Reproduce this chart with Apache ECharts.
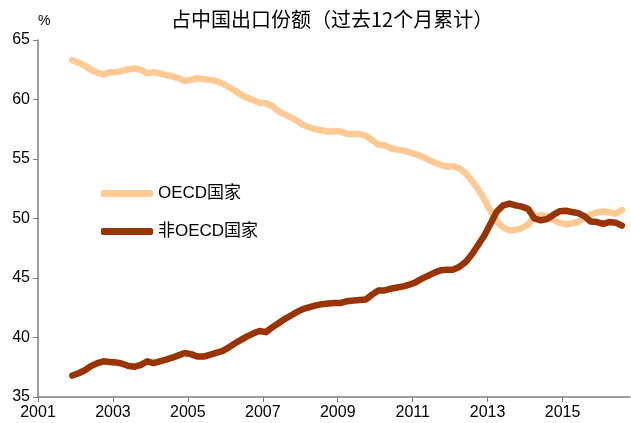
<!DOCTYPE html>
<html>
<head>
<meta charset="utf-8">
<script src="https://cdn.jsdelivr.net/npm/echarts@6/dist/echarts.min.js"></script>
<style>
  html, body { margin: 0; padding: 0; background: #fff; }
  #chart { width: 631px; height: 423px; }
</style>
</head>
<body>
<div id="chart"></div>
<script>
// 月份（每两个月取一个点）
var months = [
  '2001-12',
  '2002-02', '2002-04', '2002-06', '2002-08', '2002-10', '2002-12',
  '2003-02', '2003-04', '2003-06', '2003-08', '2003-10', '2003-12',
  '2004-02', '2004-04', '2004-06', '2004-08', '2004-10', '2004-12',
  '2005-02', '2005-04', '2005-06', '2005-08', '2005-10', '2005-12',
  '2006-02', '2006-04', '2006-06', '2006-08', '2006-10', '2006-12',
  '2007-02', '2007-04', '2007-06', '2007-08', '2007-10', '2007-12',
  '2008-02', '2008-04', '2008-06', '2008-08', '2008-10', '2008-12',
  '2009-02', '2009-04', '2009-06', '2009-08', '2009-10', '2009-12',
  '2010-02', '2010-04', '2010-06', '2010-08', '2010-10', '2010-12',
  '2011-02', '2011-04', '2011-06', '2011-08', '2011-10', '2011-12',
  '2012-02', '2012-04', '2012-06', '2012-08', '2012-10', '2012-12',
  '2013-02', '2013-04', '2013-06', '2013-08', '2013-10', '2013-12',
  '2014-02', '2014-04', '2014-06', '2014-08', '2014-10', '2014-12',
  '2015-02', '2015-04', '2015-06', '2015-08', '2015-10', '2015-12',
  '2016-02', '2016-04', '2016-06', '2016-08'
];

// OECD国家 占比 (%)
var oecd = [
  63.3,
  63.1, 62.85, 62.5, 62.25, 62.1, 62.3,
  62.3, 62.4, 62.55, 62.6, 62.5, 62.2,
  62.3, 62.2, 62.05, 61.95, 61.8, 61.55,
  61.65, 61.8, 61.7, 61.65, 61.55, 61.35,
  61.05, 60.75, 60.4, 60.15, 59.95, 59.7,
  59.7, 59.45, 59.0, 58.75, 58.5, 58.2,
  57.85, 57.65, 57.5, 57.4, 57.3, 57.35,
  57.3, 57.1, 57.1, 57.1, 56.95, 56.6,
  56.2, 56.15, 55.9, 55.8, 55.7, 55.55,
  55.4, 55.2, 54.95, 54.7, 54.5, 54.35,
  54.4, 54.2, 53.8, 53.15, 52.45, 51.6,
  50.6, 49.7, 49.25, 49.0, 49.05, 49.2,
  49.5, 50.1, 50.3, 50.2, 49.9, 49.65,
  49.5, 49.6, 49.7, 50.0, 50.35, 50.5,
  50.6, 50.5, 50.4, 50.7
];

// 非OECD国家 占比 (%)
var nonOecd = [
  36.8,
  37.0, 37.25, 37.6, 37.85, 38.0, 37.95,
  37.9, 37.8, 37.6, 37.55, 37.7, 38.0,
  37.85, 38.0, 38.15, 38.3, 38.5, 38.7,
  38.6, 38.4, 38.4, 38.55, 38.7, 38.85,
  39.15, 39.5, 39.8, 40.1, 40.35, 40.55,
  40.45, 40.85, 41.2, 41.55, 41.85, 42.15,
  42.4, 42.55, 42.7, 42.8, 42.85, 42.9,
  42.9, 43.05, 43.1, 43.15, 43.2, 43.6,
  43.95, 43.95, 44.1, 44.2, 44.3, 44.45,
  44.65, 44.95, 45.2, 45.45, 45.65, 45.7,
  45.7, 45.95, 46.35, 47.0, 47.8, 48.6,
  49.6, 50.6, 51.1, 51.25, 51.1, 51.0,
  50.8, 50.0, 49.85, 49.95, 50.3, 50.6,
  50.65, 50.55, 50.45, 50.2, 49.75, 49.7,
  49.55, 49.7, 49.65, 49.4
];

var seriesNames = ['OECD国家', '非OECD国家'];
var seriesColors = ['#FFC994', '#993300'];

// 年份小数，作为x轴数值
function toYear(m) {
  var p = m.split('-');
  return Number(p[0]) + (Number(p[1]) - 1) / 12;
}

function pairs(values) {
  return values.map(function(v, i) {
    return [toYear(months[i]), v];
  });
}

var chart = echarts.init(document.getElementById('chart'));
var font = 'Liberation Sans, Arial, Noto Sans CJK SC, sans-serif';

chart.setOption({
  animation: false,
  textStyle: { fontFamily: font },
  title: {
    text: '占中国出口份额（过去12个月累计）',
    left: 166,
    top: 4,
    textStyle: {
      fontFamily: 'Noto Sans CJK SC, sans-serif',
      fontSize: 20,
      fontWeight: 'normal',
      color: '#000'
    }
  },
  legend: {
    data: seriesNames,
    orient: 'vertical',
    left: 96,
    top: 180,
    itemWidth: 52,
    itemHeight: 7,
    itemGap: 21,
    icon: 'roundRect',
    textStyle: {
      fontFamily: font,
      fontSize: 17,
      color: '#000'
    }
  },
  grid: {
    left: 38,
    right: 1,
    top: 40,
    bottom: 26,
    containLabel: false
  },
  xAxis: {
    type: 'value',
    min: 2001,
    max: 2016.8,
    interval: 2,
    axisLine: { lineStyle: { color: '#7f7f7f', width: 1.5 } },
    axisTick: { show: true, length: 5, lineStyle: { color: '#7f7f7f' } },
    splitLine: { show: false },
    axisLabel: {
      color: '#000',
      fontSize: 16,
      margin: 8,
      showMaxLabel: false,
      formatter: function(v) {
        return Number.isInteger(v) ? String(v) : '';
      }
    }
  },
  yAxis: {
    type: 'value',
    name: '%',
    nameLocation: 'end',
    nameGap: 12,
    nameTextStyle: { color: '#000', fontSize: 14, align: 'left', padding: [0, 0, 0, 0] },
    min: 35,
    max: 65,
    interval: 5,
    axisLine: { show: true, lineStyle: { color: '#7f7f7f', width: 1.5 } },
    axisTick: { show: true, length: 5, lineStyle: { color: '#7f7f7f' } },
    splitLine: { show: false },
    axisLabel: { color: '#000', fontSize: 16, margin: 8 }
  },
  series: [
    {
      name: seriesNames[0],
      type: 'line',
      data: pairs(oecd),
      showSymbol: false,
      symbol: 'none',
      color: seriesColors[0],
      lineStyle: { width: 6.5, color: seriesColors[0], cap: 'round', join: 'round' }
    },
    {
      name: seriesNames[1],
      type: 'line',
      data: pairs(nonOecd),
      showSymbol: false,
      symbol: 'none',
      color: seriesColors[1],
      lineStyle: { width: 6.5, color: seriesColors[1], cap: 'round', join: 'round' }
    }
  ]
});
</script>
</body>
</html>
